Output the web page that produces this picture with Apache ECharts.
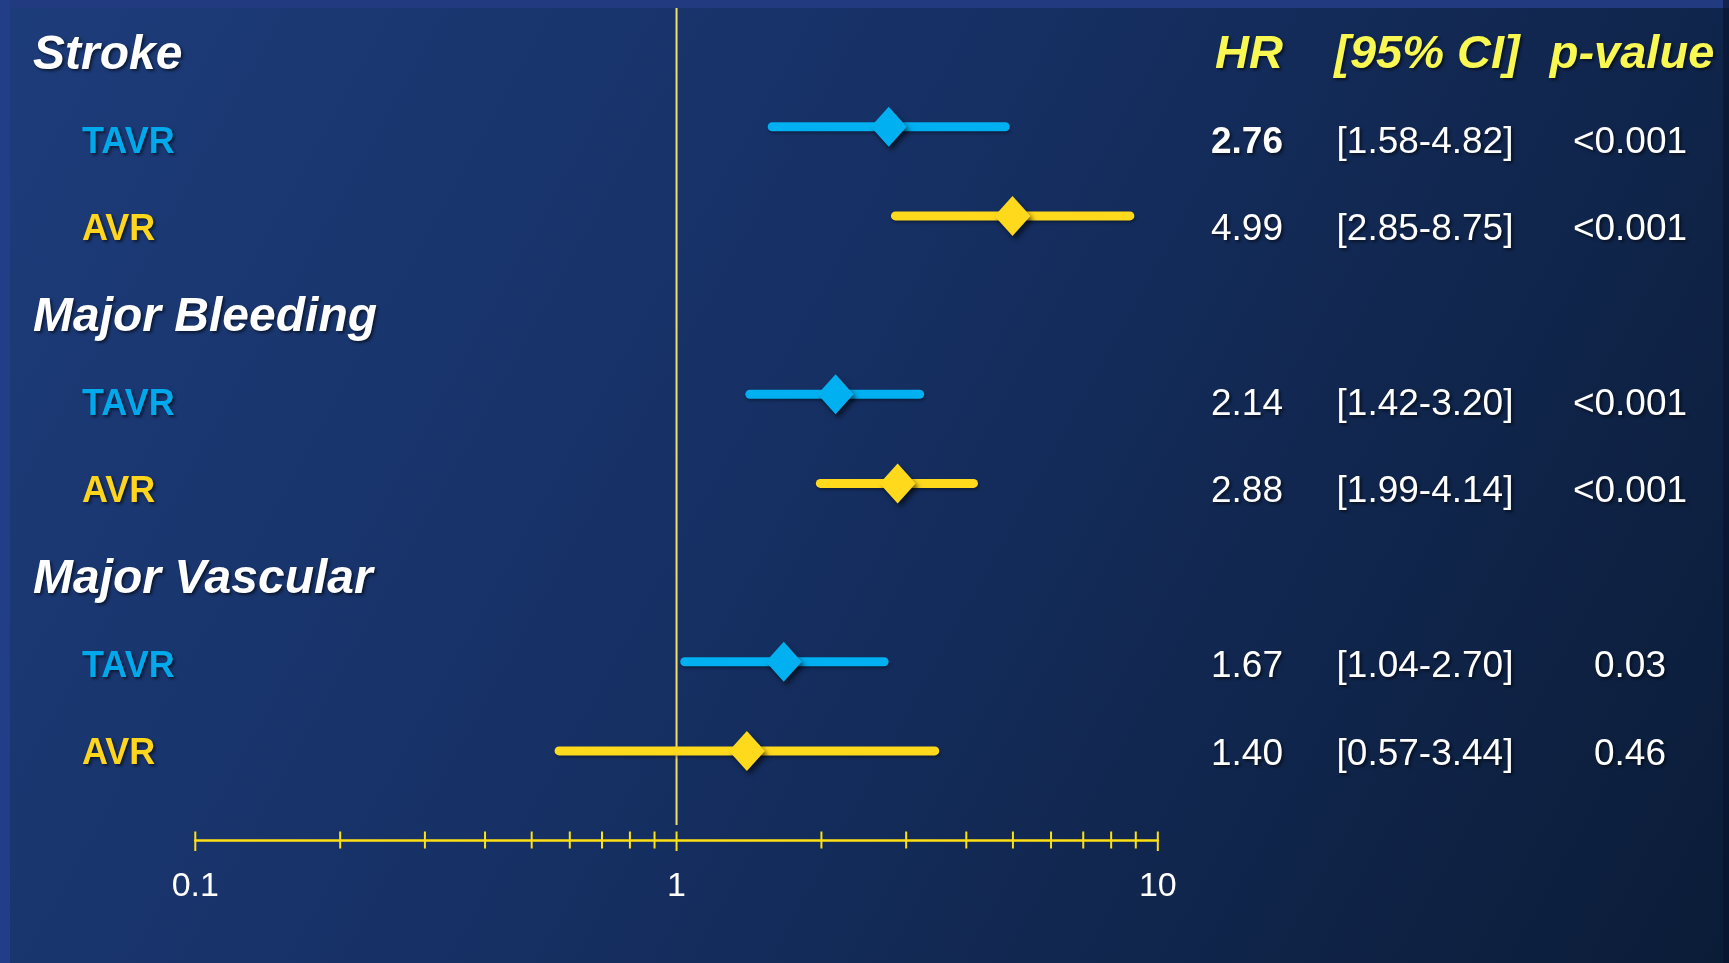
<!DOCTYPE html>
<html>
<head>
<meta charset="utf-8">
<title>Hazard ratios: Stroke, Major Bleeding, Major Vascular</title>
<script src="https://cdn.jsdelivr.net/npm/echarts@6/dist/echarts.min.js"></script>
<style>
  html, body { margin: 0; padding: 0; background: #142c5c; }
  #chart { width: 1729px; height: 963px; }
</style>
</head>
<body>
<div id="chart"></div>
<script>
// ---- data ---------------------------------------------------------------
const outcomes = ['Stroke', 'Major Bleeding', 'Major Vascular'];
const arms = ['TAVR', 'AVR'];
// one entry per outcome x arm, in row order
const hazardRatio = [2.76, 4.99, 2.14, 2.88, 1.67, 1.40];
const ciLower     = [1.58, 2.85, 1.42, 1.99, 1.04, 0.57];
const ciUpper     = [4.82, 8.75, 3.20, 4.14, 2.70, 3.44];
const pValue      = ['<0.001', '<0.001', '<0.001', '<0.001', '0.03', '0.46'];
const columnTitles = ['HR', '[95% CI]', 'p-value'];
const axisTicks  = [0.1, 0.2, 0.3, 0.4, 0.5, 0.6, 0.7, 0.8, 0.9, 1, 2, 3, 4, 5, 6, 7, 8, 9, 10];
const majorTicks = [0.1, 1, 10];
const referenceHR = 1;

// ---- styling ------------------------------------------------------------
const FONT = '"Liberation Sans", Arial, Helvetica, sans-serif';
const armColor = { TAVR: '#00b0f0', AVR: '#ffd91c' };
const armLabelColor = { TAVR: '#00a9ec', AVR: '#ffd51e' };
const titleYellow = '#f9f752';
const axisYellow = '#ffe014';
const textShadow = { textShadowColor: 'rgba(0,0,0,0.55)', textShadowBlur: 3, textShadowOffsetX: 2, textShadowOffsetY: 2 };

// table rows: a heading per outcome followed by one row per arm
const rowKind = [];
const rowText = [];
const rowEstimate = [];
outcomes.forEach((name, g) => {
  rowKind.push('header'); rowText.push(name); rowEstimate.push(-1);
  arms.forEach((arm, k) => {
    rowKind.push(arm); rowText.push(arm); rowEstimate.push(g * arms.length + k);
  });
});
const rowIds = rowText.map((t, i) => i);

// forest-plot marks: [lower, upper, HR, row, armIndex]
const markData = [];
rowEstimate.forEach((e, row) => {
  if (e >= 0) markData.push([ciLower[e], ciUpper[e], hazardRatio[e], row, arms.indexOf(rowKind[row])]);
});

// plot area (shared horizontal extent for the log axes)
const PLOT_LEFT = 195.3;
const PLOT_RIGHT = 571.2;
// table column anchors
const COL_HEADER_X = 33;
const COL_ARM_X = 82;
const COL_HR_RIGHT = 1283;
const COL_CI_CENTER = 1425;
const COL_P_CENTER = 1630;

function text(str, x, y, opts) {
  return {
    type: 'text',
    style: Object.assign({
      text: str, x: x, y: y,
      fill: '#ffffff',
      fontFamily: FONT,
      fontSize: 37,
      fontWeight: 'normal',
      fontStyle: 'normal',
      align: 'left',
      verticalAlign: 'middle'
    }, textShadow, opts || {})
  };
}

function renderTableRow(params, api) {
  const row = api.value(1);
  const y = api.coord([0, row])[1];
  const kind = rowKind[row];
  const children = [];
  if (kind === 'header') {
    children.push(text(rowText[row], COL_HEADER_X, y, {
      fontSize: 48, fontWeight: 'bold', fontStyle: 'italic'
    }));
    if (row === 0) {
      const titleStyle = { fontSize: 47, fontWeight: 'bold', fontStyle: 'italic', fill: titleYellow };
      children.push(text(columnTitles[0], COL_HR_RIGHT, y, Object.assign({ align: 'right' }, titleStyle)));
      children.push(text(columnTitles[1], COL_CI_CENTER + 2, y, Object.assign({ align: 'center' }, titleStyle)));
      children.push(text(columnTitles[2], COL_P_CENTER + 2, y, Object.assign({ align: 'center' }, titleStyle)));
    }
  } else {
    const e = rowEstimate[row];
    children.push(text(rowText[row], COL_ARM_X, y, {
      fontSize: 36, fontWeight: 'bold', fill: armLabelColor[kind]
    }));
    // the first estimate is set in bold
    children.push(text(hazardRatio[e].toFixed(2), COL_HR_RIGHT, y, {
      align: 'right', fontWeight: e === 0 ? 'bold' : 'normal'
    }));
    children.push(text('[' + ciLower[e].toFixed(2) + '-' + ciUpper[e].toFixed(2) + ']', COL_CI_CENTER, y, { align: 'center' }));
    children.push(text(pValue[e], COL_P_CENTER, y, { align: 'center' }));
  }
  return { type: 'group', children: children };
}

function renderEstimate(params, api) {
  const row = api.value(3);
  const lo = api.coord([api.value(0), row]);
  const hi = api.coord([api.value(1), row]);
  const c = api.coord([api.value(2), row]);
  const color = armColor[arms[api.value(4)]];
  const hw = 18, hh = 20;
  return {
    type: 'group',
    children: [
      {
        type: 'line',
        shape: { x1: lo[0], y1: lo[1], x2: hi[0], y2: hi[1] },
        style: {
          stroke: color, lineWidth: 9, lineCap: 'round',
          shadowColor: 'rgba(0,0,0,0.35)', shadowBlur: 3, shadowOffsetX: 1, shadowOffsetY: 2
        }
      },
      {
        type: 'polygon',
        shape: { points: [[c[0], c[1] - hh], [c[0] + hw, c[1]], [c[0], c[1] + hh], [c[0] - hw, c[1]]] },
        style: {
          fill: color,
          shadowColor: 'rgba(0,0,0,0.55)', shadowBlur: 5, shadowOffsetX: 3, shadowOffsetY: 4
        }
      }
    ]
  };
}

function renderTick(params, api) {
  const v = api.value(0);
  const p = api.coord([v, 0]);
  const major = majorTicks.indexOf(v) >= 0;
  return {
    type: 'line',
    shape: { x1: p[0], y1: p[1] - 8.5, x2: p[0], y2: p[1] + (major ? 11 : 8.5) },
    style: { stroke: axisYellow, lineWidth: 2 }
  };
}

function renderReference(params, api) {
  const top = api.coord([api.value(0), 1]);
  const axisPt = api.coord([api.value(0), 0]);
  return {
    type: 'line',
    shape: { x1: top[0], y1: top[1], x2: axisPt[0], y2: axisPt[1] - 15 },
    style: { stroke: '#f3de67', lineWidth: 2 }
  };
}

const chart = echarts.init(document.getElementById('chart'), null, { renderer: 'canvas' });

const option = {
  animation: false,
  backgroundColor: {
    type: 'linear', x: 0, y: 0, x2: 1, y2: 1,
    colorStops: [
      { offset: 0, color: '#1d3c7a' },
      { offset: 0.45, color: '#163064' },
      { offset: 1, color: '#0b1c37' }
    ]
  },
  graphic: [
    { type: 'rect', left: 0, top: 0, shape: { width: 1729, height: 8 }, style: { fill: '#213a80' }, silent: true },
    { type: 'rect', left: 0, top: 0, shape: { width: 10, height: 963 }, style: { fill: '#223e88' }, silent: true },
    { type: 'rect', right: 0, top: 0, shape: { width: 6, height: 963 }, style: { fill: 'rgba(8,18,45,0.6)' }, silent: true }
  ],
  grid: [
    // forest-plot marks
    { left: PLOT_LEFT, right: PLOT_RIGHT, top: 37.6, height: 713.3 },
    // table text rows
    { left: 0, right: 0, top: 55.3, height: 699.1 },
    // the HR axis with reference line
    { left: PLOT_LEFT, right: PLOT_RIGHT, top: 8, bottom: 123 }
  ],
  xAxis: [
    { gridIndex: 0, type: 'log', logBase: 10, min: 0.1, max: 10, show: false },
    { gridIndex: 1, type: 'value', min: 0, max: 1, show: false },
    {
      gridIndex: 2, type: 'log', logBase: 10, min: 0.1, max: 10,
      axisLine: { show: true, lineStyle: { color: axisYellow, width: 2.5 } },
      axisTick: { show: false },
      splitLine: { show: false },
      axisLabel: {
        color: '#ffffff', fontSize: 34, fontFamily: FONT, margin: 30,
        formatter: v => String(Number(Number(v).toPrecision(3)))
      }
    }
  ],
  yAxis: [
    { gridIndex: 0, type: 'category', data: rowIds, inverse: true, boundaryGap: false, show: false },
    { gridIndex: 1, type: 'category', data: rowIds, inverse: true, boundaryGap: false, show: false },
    { gridIndex: 2, type: 'value', min: 0, max: 1, show: false }
  ],
  series: [
    {
      name: 'reference', type: 'custom', xAxisIndex: 2, yAxisIndex: 2, clip: false,
      data: [[referenceHR]], renderItem: renderReference, z: 2
    },
    {
      name: 'ticks', type: 'custom', xAxisIndex: 2, yAxisIndex: 2, clip: false,
      data: axisTicks.map(v => [v]), renderItem: renderTick, z: 3
    },
    {
      name: 'estimates', type: 'custom', xAxisIndex: 0, yAxisIndex: 0, clip: false,
      data: markData, renderItem: renderEstimate, z: 5
    },
    {
      name: 'table', type: 'custom', xAxisIndex: 1, yAxisIndex: 1, clip: false,
      data: rowIds.map(i => [0, i]), renderItem: renderTableRow, z: 6
    }
  ]
};

chart.setOption(option);
</script>
</body>
</html>
